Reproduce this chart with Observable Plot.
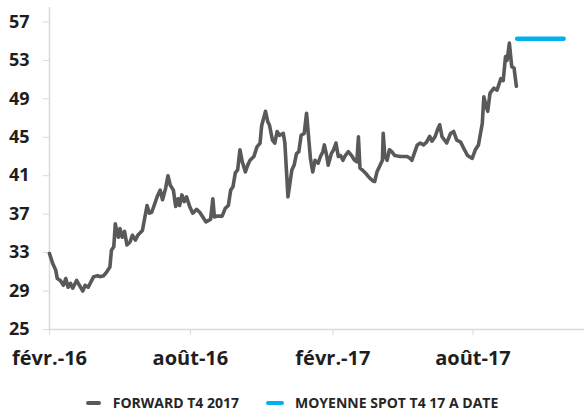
<!DOCTYPE html>
<html>
<head>
<meta charset="utf-8">
<script src="https://cdn.jsdelivr.net/npm/d3@7"></script>
<script src="https://cdn.jsdelivr.net/npm/@observablehq/plot@0.6"></script>
<style>
  html, body { margin: 0; padding: 0; background: #fff; }
  #wrap { position: relative; width: 584px; height: 411px; overflow: hidden; font-family: "Open Sans", sans-serif; }
  #legend { position: absolute; left: 0; top: 394px; width: 584px; height: 18px; display: flex; align-items: center; justify-content: center; font-size: 14px; font-weight: 700; color: #262626; line-height: 18px; }
  .sw { display: inline-block; height: 4px; border-radius: 2px; }
</style>
</head>
<body>
<div id="wrap">
  <div id="chart"></div>
  <div id="legend"></div>
</div>
<script>
// ---- Data ----
const fwdDates = [
  "2016-02-01","2016-02-05","2016-02-09","2016-02-11","2016-02-15","2016-02-19","2016-02-22","2016-02-25","2016-02-28",
  "2016-03-02","2016-03-07","2016-03-12","2016-03-15","2016-03-18","2016-03-22","2016-03-29",
  "2016-04-03","2016-04-06","2016-04-11","2016-04-15","2016-04-19","2016-04-21","2016-04-24","2016-04-26","2016-04-28","2016-04-30",
  "2016-05-02","2016-05-05","2016-05-08","2016-05-11","2016-05-15","2016-05-18","2016-05-22","2016-05-25","2016-05-31",
  "2016-06-03","2016-06-06","2016-06-09","2016-06-12","2016-06-16","2016-06-19","2016-06-23","2016-06-26","2016-06-30",
  "2016-07-03","2016-07-06","2016-07-10","2016-07-13","2016-07-16","2016-07-18","2016-07-21","2016-07-24","2016-07-27","2016-07-31",
  "2016-08-04","2016-08-09","2016-08-13","2016-08-17","2016-08-21","2016-08-27","2016-08-30",
  "2016-09-01","2016-09-05","2016-09-11","2016-09-15","2016-09-19","2016-09-22","2016-09-25","2016-09-28",
  "2016-10-01","2016-10-04","2016-10-07","2016-10-11","2016-10-14","2016-10-17","2016-10-22","2016-10-26","2016-10-30",
  "2016-11-01","2016-11-06","2016-11-09","2016-11-11","2016-11-15","2016-11-18","2016-11-21","2016-11-24","2016-11-29",
  "2016-12-01","2016-12-05","2016-12-10","2016-12-13","2016-12-16","2016-12-19","2016-12-22","2016-12-26","2016-12-29",
  "2017-01-01","2017-01-03","2017-01-06","2017-01-09","2017-01-13","2017-01-16","2017-01-19","2017-01-21","2017-01-24","2017-01-26","2017-01-30",
  "2017-02-02","2017-02-05","2017-02-08","2017-02-11","2017-02-14","2017-02-17","2017-02-21","2017-02-26",
  "2017-03-01","2017-03-04","2017-03-06","2017-03-08","2017-03-11","2017-03-16","2017-03-19","2017-03-24","2017-03-27","2017-03-30",
  "2017-04-03","2017-04-06","2017-04-07","2017-04-09","2017-04-12","2017-04-15","2017-04-18","2017-04-22","2017-04-29",
  "2017-05-08","2017-05-12","2017-05-14","2017-05-21","2017-05-25","2017-05-29",
  "2017-06-02","2017-06-06","2017-06-09","2017-06-13","2017-06-16","2017-06-19","2017-06-22","2017-06-28",
  "2017-07-03","2017-07-07","2017-07-11","2017-07-16","2017-07-21","2017-07-25","2017-07-31",
  "2017-08-04","2017-08-08","2017-08-13","2017-08-15","2017-08-18","2017-08-20","2017-08-23","2017-08-28",
  "2017-09-01","2017-09-06","2017-09-09","2017-09-12","2017-09-14","2017-09-17","2017-09-20","2017-09-23","2017-09-26"
];
const fwdValues = [
  32.9,31.9,31.2,30.3,30.1,29.6,30.3,29.4,29.8,
  29.3,30.1,29.4,29.0,29.6,29.4,30.5,
  30.6,30.5,30.6,31.0,31.5,33.25,33.6,36.0,35.2,34.6,
  35.5,34.6,35.2,33.8,34.1,34.8,34.3,34.8,35.3,
  36.6,37.9,37.1,37.2,38.1,38.8,39.5,38.5,39.7,
  41.0,40.0,39.5,37.8,38.6,37.9,39.0,38.3,38.8,37.8,
  37.1,37.5,37.2,36.7,36.2,36.45,38.6,
  36.7,36.8,36.8,37.6,37.9,39.5,39.85,41.3,
  41.6,43.7,42.45,41.4,42.1,42.6,43.0,44.0,44.4,
  46.2,47.7,46.6,46.3,44.7,44.4,45.6,45.2,45.4,
  44.4,38.8,41.6,42.1,43.3,43.5,45.2,45.4,47.5,
  44.7,42.8,41.4,42.6,42.3,43.0,43.5,44.2,43.1,42.1,43.3,
  43.7,44.4,43.0,43.1,42.6,43.1,43.5,43.0,
  42.6,42.45,45.05,41.8,41.6,41.2,40.9,40.5,40.4,41.4,
  42.1,42.6,45.4,43.1,42.6,43.7,43.5,43.1,43.0,
  43.0,42.8,42.6,44.2,44.4,44.2,
  44.5,45.1,44.6,45.05,45.75,46.3,45.05,44.4,
  45.4,45.6,44.7,44.5,43.7,43.1,42.8,
  43.7,44.2,46.45,49.2,48.2,47.7,49.6,50.1,
  49.9,51.1,50.9,53.4,53.0,54.8,52.35,52.2,50.3
];
const spotDates = ["2017-09-27","2017-11-26"];
const spotValues = [55.25, 55.25];

const seriesNames = ["FORWARD T4 2017", "MOYENNE SPOT T4 17 A DATE"];
const xDomain = ["2016-02-01", "2017-12-23"];
const yDomain = [25, 58.5];
const yTicks = [25, 29, 33, 37, 41, 45, 49, 53, 57];
const xTickDates = ["2016-02-01", "2016-08-01", "2017-02-01", "2017-08-01"];
const xTickLabels = ["févr.-16", "août-16", "févr.-17", "août-17"];

// ---- Build ----
const parse = s => new Date(s + "T00:00:00Z");
const fwd = fwdDates.map((d, i) => ({date: parse(d), value: fwdValues[i]}));
const spot = spotDates.map((d, i) => ({date: parse(d), value: spotValues[i]}));
const xTicks = xTickDates.map(parse);
const labelMap = new Map(xTicks.map((d, i) => [+d, xTickLabels[i]]));

const colors = ["#595959", "#00b0f0"];
const axisColor = "#d9d9d9";
const textColor = "#1e1e1e";

const chart = Plot.plot({
  width: 584,
  height: 380,
  marginLeft: 49,
  marginRight: 0,
  marginTop: 7,
  marginBottom: 51,
  style: {fontFamily: "'Open Sans', sans-serif", background: "#fff", color: textColor},
  x: {type: "utc", domain: xDomain.map(parse)},
  y: {domain: yDomain},
  marks: [
    Plot.ruleY([yDomain[0]], {stroke: axisColor, strokeWidth: 1.5}),
    Plot.ruleX([parse(xDomain[0])], {stroke: axisColor, strokeWidth: 1.5}),
    Plot.axisY(yTicks, {tickSize: 6, tickPadding: 14, stroke: axisColor, fill: textColor, fontSize: 18, fontWeight: 700, label: null}),
    Plot.axisX(xTicks, {tickSize: 6, tickPadding: 15, stroke: axisColor, fill: textColor, fontSize: 20, fontWeight: 700, label: null, tickFormat: d => labelMap.get(+d)}),
    Plot.line(fwd, {x: "date", y: "value", stroke: colors[0], strokeWidth: 3.6, strokeLinejoin: "round"}),
    Plot.line(spot, {x: "date", y: "value", stroke: colors[1], strokeWidth: 4.5, strokeLinecap: "round"})
  ]
});
document.getElementById("chart").appendChild(chart);

// ---- Legend ----
const legend = document.getElementById("legend");
const swW = [15, 18];
const gapsAfterSwatch = [12, 11];
seriesNames.forEach((name, i) => {
  const sw = document.createElement("span");
  sw.className = "sw";
  sw.style.width = swW[i] + "px";
  sw.style.background = colors[i];
  sw.style.marginRight = gapsAfterSwatch[i] + "px";
  const t = document.createElement("span");
  t.textContent = name;
  if (i === 0) t.style.marginRight = "27px";
  legend.appendChild(sw);
  legend.appendChild(t);
});
</script>
</body>
</html>
